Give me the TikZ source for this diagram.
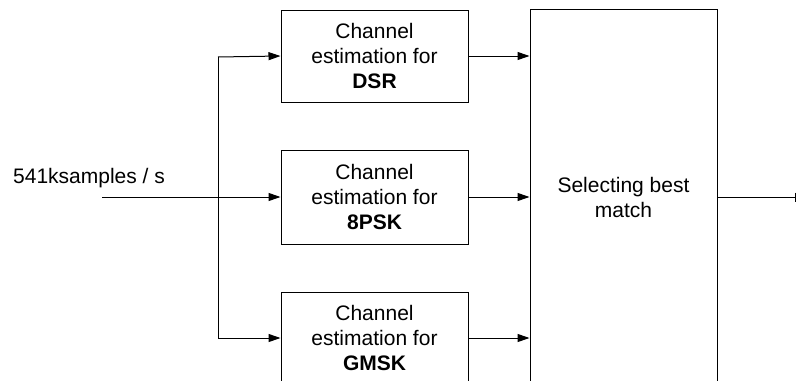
\documentclass[tikz,border=0pt]{standalone}
\usepackage{fontspec}
\setmainfont{Liberation Sans}
\usetikzlibrary{arrows.meta}
\begin{document}
\begin{tikzpicture}[x=1pt,y=-1pt,
  every node/.style={font=\fontsize{21}{25}\selectfont},
  blk/.style={draw, line width=1pt, align=center, minimum width=187pt, inner sep=0pt},
  arr/.style={line width=1pt, -{Triangle[length=12pt,width=8pt]}},
  ln/.style={line width=1pt}]
\useasboundingbox (0,0) rectangle (797,380);
\clip (0,0) rectangle (797,380);
\node[blk, minimum height=92pt] (dsr) at (374.5,56) {Channel\\estimation for\\\textbf{DSR}};
\node[blk, minimum height=94pt] (psk) at (374.5,197) {Channel\\estimation for\\\textbf{8PSK}};
\node[blk, minimum height=92pt] (gmsk) at (374.5,338) {Channel\\estimation for\\\textbf{GMSK}};
\node[blk, minimum height=376pt] (sel) at (623.5,197) {Selecting best\\match};
\node[anchor=west, inner sep=0pt] (lbl) at (13,178) {541ksamples / s};
\coordinate (in) at (102,197);
\coordinate (jt) at (218,57);
\coordinate (jb) at (218,338);
\coordinate (out) at (797,197);
\draw[arr] (in) -- (psk.west);
\draw[ln] (jt) -- (jb);
\draw[arr] (jt) -- (dsr.west);
\draw[arr] (jb) -- (gmsk.west);
\draw[arr] (dsr.east) -- (sel.west |- dsr.east);
\draw[arr] (psk.east) -- (sel.west |- psk.east);
\draw[arr] (gmsk.east) -- (sel.west |- gmsk.east);
\draw[line width=1pt, -{Bar[width=9pt,line width=1pt]}] (sel.east |- out) -- ([xshift=-1pt]out);
\end{tikzpicture}
\end{document}
